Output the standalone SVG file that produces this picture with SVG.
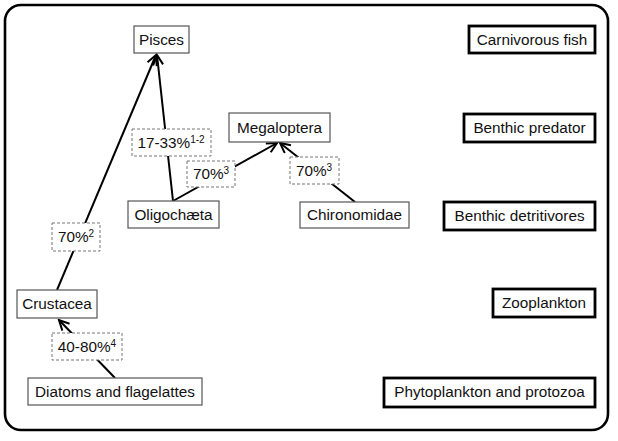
<svg xmlns="http://www.w3.org/2000/svg" width="618" height="441" viewBox="0 0 618 441">
  <style>
    text { font-family: "Liberation Sans", Arial, sans-serif; font-size: 15.3px; fill: #111; text-anchor: middle; }
    .taxon { fill: #fff; stroke: #555; stroke-width: 1.2; }
    .level { fill: #fff; stroke: #000; stroke-width: 2.8; }
    .pct { fill: #fff; stroke: #777; stroke-width: 1; stroke-dasharray: 3 2; }
    .link { fill: none; stroke: #000; stroke-width: 2; }
    .sup { font-size: 10px; }
  </style>
  <defs>
    <marker id="arrow" markerUnits="userSpaceOnUse" markerWidth="14" markerHeight="14" refX="11" refY="6" orient="auto">
      <path d="M1,1 L11,6 L1,11" fill="none" stroke="#000" stroke-width="2"/>
    </marker>
  </defs>

  <!-- frame -->
  <rect x="5" y="5" width="603" height="425" rx="16" fill="#fff" stroke="#000" stroke-width="2.6"/>

  <!-- connectors -->
  <g id="connectors">
    <line class="link" x1="115" y1="378" x2="59" y2="320" marker-end="url(#arrow)"/>
    <line class="link" x1="57" y1="290" x2="156" y2="55" marker-end="url(#arrow)"/>
    <line class="link" x1="173" y1="201" x2="157" y2="55" marker-end="url(#arrow)"/>
    <line class="link" x1="173" y1="201" x2="277" y2="143" marker-end="url(#arrow)"/>
    <line class="link" x1="355" y1="202" x2="280" y2="143" marker-end="url(#arrow)"/>
  </g>

  <!-- transfer percentages -->
  <g id="pct-crustacea-pisces">
    <rect class="pct" x="52" y="223" width="48" height="28"/>
    <text x="76" y="242">70%<tspan class="sup" dy="-5">2</tspan></text>
  </g>
  <g id="pct-diatoms-crustacea">
    <rect class="pct" x="52" y="333" width="70" height="27"/>
    <text x="87" y="352">40-80%<tspan class="sup" dy="-5">4</tspan></text>
  </g>
  <g id="pct-oligochaeta-pisces">
    <rect class="pct" x="132" y="129" width="79" height="27"/>
    <text x="171" y="148">17-33%<tspan class="sup" dy="-5">1-2</tspan></text>
  </g>
  <g id="pct-oligochaeta-megaloptera">
    <rect class="pct" x="187" y="161" width="48" height="26"/>
    <text x="211" y="179">70%<tspan class="sup" dy="-5">3</tspan></text>
  </g>
  <g id="pct-chironomidae-megaloptera">
    <rect class="pct" x="290" y="157" width="49" height="27"/>
    <text x="314" y="176">70%<tspan class="sup" dy="-5">3</tspan></text>
  </g>

  <!-- taxa -->
  <g id="pisces">
    <rect class="taxon" x="134" y="26" width="55" height="27"/>
    <text x="161.5" y="45">Pisces</text>
  </g>
  <g id="megaloptera">
    <rect class="taxon" x="229" y="113" width="101" height="29"/>
    <text x="279.5" y="133">Megaloptera</text>
  </g>
  <g id="oligochaeta">
    <rect class="taxon" x="128" y="201" width="91" height="27"/>
    <text x="173.5" y="220">Oligochæta</text>
  </g>
  <g id="chironomidae">
    <rect class="taxon" x="300" y="202" width="109" height="26"/>
    <text x="354.5" y="220">Chironomidae</text>
  </g>
  <g id="crustacea">
    <rect class="taxon" x="17" y="290" width="80" height="28"/>
    <text x="57" y="309">Crustacea</text>
  </g>
  <g id="diatoms">
    <rect class="taxon" x="28" y="378" width="174" height="27"/>
    <text x="115" y="397">Diatoms and flagelattes</text>
  </g>

  <!-- trophic levels -->
  <g id="level-carnivorous-fish">
    <rect class="level" x="469" y="26" width="126" height="27"/>
    <text x="532" y="45">Carnivorous fish</text>
  </g>
  <g id="level-benthic-predator">
    <rect class="level" x="464" y="114" width="131" height="28"/>
    <text x="529.5" y="133">Benthic predator</text>
  </g>
  <g id="level-benthic-detritivores">
    <rect class="level" x="444" y="202" width="151" height="28"/>
    <text x="519.5" y="221">Benthic detritivores</text>
  </g>
  <g id="level-zooplankton">
    <rect class="level" x="493" y="289" width="102" height="28"/>
    <text x="544" y="308">Zooplankton</text>
  </g>
  <g id="level-phytoplankton">
    <rect class="level" x="384" y="378" width="211" height="29"/>
    <text x="489.5" y="397">Phytoplankton and protozoa</text>
  </g>
</svg>
